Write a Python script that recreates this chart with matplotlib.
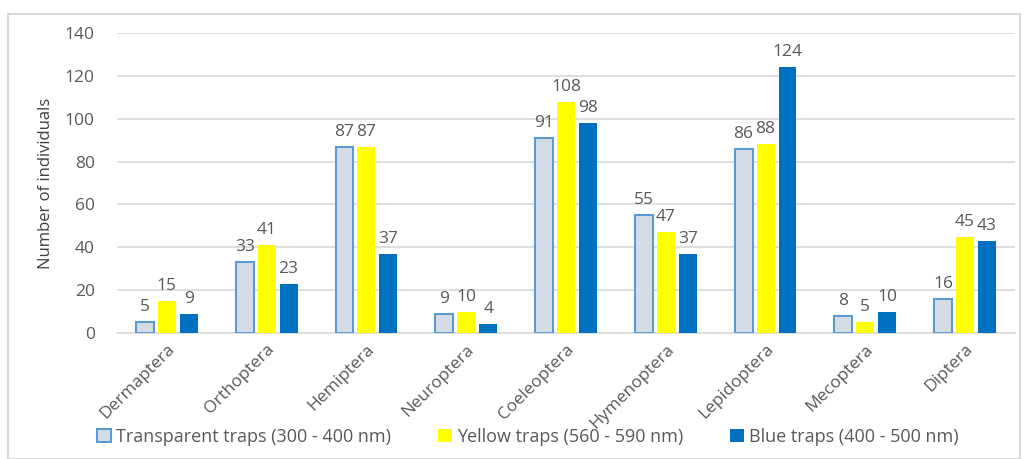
import matplotlib
matplotlib.use("Agg")
import matplotlib.pyplot as plt
import numpy as np
from matplotlib.patches import Rectangle

categories = ["Dermaptera", "Orthoptera", "Hemiptera", "Neuroptera", "Coeleoptera",
              "Hymenoptera", "Lepidoptera", "Mecoptera", "Diptera"]
transparent = [5, 33, 87, 9, 91, 55, 86, 8, 16]
yellow = [15, 41, 87, 10, 108, 47, 88, 5, 45]
blue = [9, 23, 37, 4, 98, 37, 124, 10, 43]
series_names = ["Transparent traps (300 - 400 nm)", "Yellow traps (560 - 590 nm)",
                "Blue traps (400 - 500 nm)"]
yticks = [0, 20, 40, 60, 80, 100, 120, 140]

plt.rcParams['font.family'] = ['Open Sans', 'DejaVu Sans']
txt = '#595959'

fig = plt.figure(figsize=(10.29, 4.59), dpi=100)
fig.patches.append(Rectangle((8/1029, 0), 1012/1029, 1-14/459, transform=fig.transFigure,
                             fill=False, edgecolor='#D9D9D9', lw=1.5))
ax = fig.add_axes([117/1029, 1-333/459, 898/1029, 300/459])

x = np.arange(len(categories))
w = 0.18
pitch = 0.22
styles = [dict(color='#D6DCE5', edgecolor='#5B9BD5', linewidth=1.5),
          dict(color='#FFFF00', edgecolor='none'),
          dict(color='#0070C0', edgecolor='none')]
for i, (vals, st, name) in enumerate(zip([transparent, yellow, blue], styles, series_names)):
    pos = x + (i - 1) * pitch
    ax.bar(pos, vals, w, label=name, zorder=3, **st)
    for p, v in zip(pos, vals):
        ax.annotate(str(v), (p, v), xytext=(0, 5), textcoords='offset points',
                    ha='center', va='bottom', fontsize=12.5, color=txt)

ax.set_ylim(0, 140)
ax.set_xlim(-0.5, len(categories) - 0.5)
ax.set_yticks(yticks)
ax.yaxis.grid(True, color='#D9D9D9', lw=1.2, zorder=0)
ax.set_axisbelow(True)
for s in ['top', 'right', 'left']:
    ax.spines[s].set_visible(False)
ax.spines['bottom'].set_color('#D9D9D9')
ax.spines['bottom'].set_linewidth(1.2)
ax.tick_params(axis='both', length=0, colors=txt, labelsize=12.5)
ax.tick_params(axis='y', pad=16)
ax.set_xticks(x)
ax.set_xticklabels(categories, rotation=45, ha='right', rotation_mode='anchor')
ax.tick_params(axis='x', pad=6)
ax.set_ylabel("Number of individuals", fontsize=12, color='#404040', labelpad=8)

leg = fig.legend(loc='center', bbox_to_anchor=(528/1029, 1-437/459), ncol=3, frameon=False,
                 fontsize=13, handlelength=0.75, handleheight=0.75, columnspacing=2.6,
                 handletextpad=0.3)
for t in leg.get_texts():
    t.set_color(txt)

fig.savefig("out.png", dpi=100)
